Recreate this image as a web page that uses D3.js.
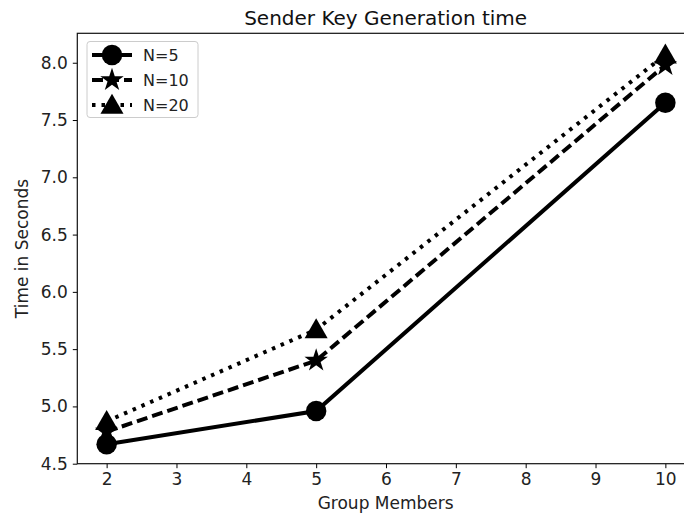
<!DOCTYPE html>
<html>
<head>
<meta charset="utf-8">
<script src="https://cdn.jsdelivr.net/npm/d3@7"></script>
<style>
  body { margin: 0; background: #fff; }
  svg { font-family: "DejaVu Sans", sans-serif; }
</style>
</head>
<body>
<svg id="vis"></svg>
<script>
const WIDTH = 684;
const HEIGHT = 513;

// datos
const members = [2, 5, 10];
const n5 = [4.67, 4.96, 7.65];
const n10 = [4.78, 5.40, 7.98];
const n20 = [4.87, 5.67, 8.07];
const xTicks = [2, 3, 4, 5, 6, 7, 8, 9, 10];
const yTicks = [4.5, 5.0, 5.5, 6.0, 6.5, 7.0, 7.5, 8.0];

const series = [
  { label: "N=5", values: n5, dash: null, marker: "circle" },
  { label: "N=10", values: n10, dash: "11,5", marker: "star" },
  { label: "N=20", values: n20, dash: "3.5,6", marker: "triangle" }
];

const svg = d3.select("#vis").attr("width", WIDTH).attr("height", HEIGHT);

// caja de los ejes
const boxL = 77.3, boxR = 694, boxT = 33.3, boxB = 463.7;

const x = d3.scaleLinear().domain([1.58, 10.41]).range([boxL, boxR]);
const y = d3.scaleLinear().domain([4.5, 8.257]).range([boxB, boxT]);

const markerPath = {
  circle: d3.symbol(d3.symbolCircle, 330)(),
  star: d3.symbol(d3.symbolStar, 170)(),
  triangle: d3.symbol(d3.symbolTriangle, 230)()
};

// titulo
svg.append("text")
  .attr("x", (boxL + boxR) / 2)
  .attr("y", 25)
  .attr("text-anchor", "middle")
  .attr("font-size", 20)
  .attr("fill", "#111")
  .text("Sender Key Generation time");

// eje X
const ejeX = svg.append("g")
  .attr("transform", `translate(0, ${boxB})`)
  .call(d3.axisBottom(x).tickValues(xTicks).tickSize(4.5).tickPadding(5).tickFormat(d3.format("d")));
ejeX.select(".domain").remove();
ejeX.selectAll("text").attr("font-size", 17).attr("fill", "#222").attr("font-family", "DejaVu Sans");

// eje Y
const ejeY = svg.append("g")
  .attr("transform", `translate(${boxL}, 0)`)
  .call(d3.axisLeft(y).tickValues(yTicks).tickSize(4.5).tickPadding(5).tickFormat(d3.format(".1f")));
ejeY.select(".domain").remove();
ejeY.selectAll("text").attr("font-size", 17).attr("fill", "#222").attr("font-family", "DejaVu Sans");

// marco
svg.append("rect")
  .attr("x", boxL).attr("y", boxT)
  .attr("width", boxR - boxL).attr("height", boxB - boxT)
  .attr("fill", "none").attr("stroke", "#111").attr("stroke-width", 1.2);

// etiquetas de los ejes
svg.append("text")
  .attr("x", (boxL + boxR) / 2).attr("y", 509)
  .attr("text-anchor", "middle").attr("font-size", 17).attr("fill", "#222")
  .text("Group Members");

svg.append("text")
  .attr("transform", `translate(28, ${(boxT + boxB) / 2}) rotate(-90)`)
  .attr("text-anchor", "middle").attr("font-size", 17).attr("fill", "#222")
  .text("Time in Seconds");

// lineas
const linea = d3.line().x((d, i) => x(members[i])).y(d => y(d));

const plotG = svg.append("g");
series.forEach(s => {
  plotG.append("path")
    .attr("d", linea(s.values))
    .attr("fill", "none")
    .attr("stroke", "#000")
    .attr("stroke-width", 4)
    .attr("stroke-dasharray", s.dash);
});
series.forEach(s => {
  plotG.selectAll(null)
    .data(s.values)
    .join("path")
    .attr("d", markerPath[s.marker])
    .attr("transform", (d, i) => `translate(${x(members[i])}, ${y(d) + (s.marker === "triangle" ? 2 : 0)})`)
    .attr("fill", "#000");
});

// leyenda
const leg = svg.append("g").attr("transform", "translate(87, 41.5)");
leg.append("rect")
  .attr("width", 111).attr("height", 76).attr("rx", 3)
  .attr("fill", "#fff").attr("stroke", "#ccc").attr("stroke-width", 1);
series.forEach((s, i) => {
  const yy = 13.5 + i * 25;
  leg.append("line")
    .attr("x1", 5).attr("x2", 45).attr("y1", yy).attr("y2", yy)
    .attr("stroke", "#000").attr("stroke-width", 4)
    .attr("stroke-dasharray", s.dash);
  leg.append("path")
    .attr("d", markerPath[s.marker])
    .attr("transform", `translate(25, ${yy + (s.marker === "triangle" ? 2 : 0)})`)
    .attr("fill", "#000");
  leg.append("text")
    .attr("x", 56).attr("y", yy + 6)
    .attr("font-size", 16).attr("fill", "#222")
    .text(s.label);
});
</script>
</body>
</html>
